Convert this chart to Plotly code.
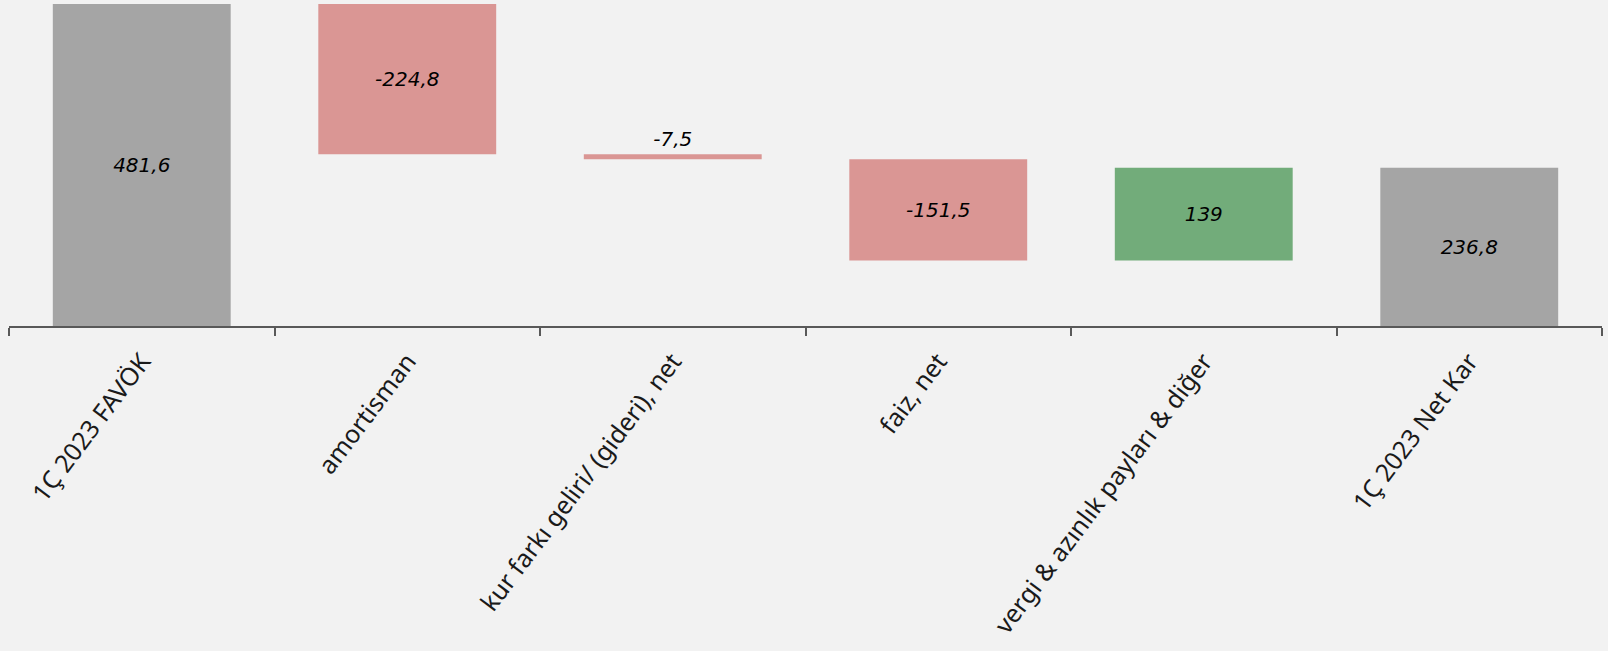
import plotly.graph_objects as go

categories = ["1Ç 2023 FAVÖK", "amortisman", "kur farkı geliri/ (gideri), net",
              "faiz, net", "vergi & azınlık payları & diğer", "1Ç 2023 Net Kar"]
values = [481.6, -224.8, -7.5, -151.5, 139.0, 236.8]
kinds = ["total", "relative", "relative", "relative", "relative", "total"]

GRAY = "#A5A5A5"
RED = "#DA9694"
GREEN = "#72AC7A"

bases, heights, colors = [], [], []
running = 0.0
for v, k in zip(values, kinds):
    if k == "total":
        bases.append(0.0)
        heights.append(v)
        colors.append(GRAY)
        running = v
    else:
        start, end = running, running + v
        bases.append(min(start, end))
        heights.append(abs(v))
        colors.append(GREEN if v > 0 else RED)
        running = end

labels = [("%g" % v).replace(".", ",") for v in values]
positions = ["outside" if abs(v) < 20 else "inside" for v in values]

fig = go.Figure(go.Bar(
    x=categories, y=heights, base=bases,
    marker=dict(color=colors, line=dict(width=0)),
    text=labels, textposition=positions, textangle=0,
    insidetextanchor="middle", constraintext="none",
    textfont=dict(family="DejaVu Sans", size=20, color="#000000", style="italic"),
    width=0.67, cliponaxis=False,
))

fig.update_layout(
    width=1608, height=651,
    paper_bgcolor="#F2F2F2", plot_bgcolor="#F2F2F2",
    margin=dict(l=9, r=6, t=0, b=325),
    showlegend=False,
    bargap=0.33,
)
fig.update_xaxes(
    showline=True, linecolor="#595959", linewidth=1.5,
    ticks="outside", tickson="boundaries", ticklen=8, tickwidth=1.5, tickcolor="#595959",
    tickangle=-53, tickfont=dict(family="Noto Sans", size=25, color="#1a1a1a"),
    ticklabelstandoff=9,
    showgrid=False,
)
fig.update_yaxes(visible=False, range=[0, 487.6], showgrid=False, zeroline=False)

fig.write_html(
    "out.html",
    config={"displayModeBar": False},
    post_script="document.body.style.margin='0';document.body.style.background='#F2F2F2';"
                "document.documentElement.style.overflow='hidden';",
)
